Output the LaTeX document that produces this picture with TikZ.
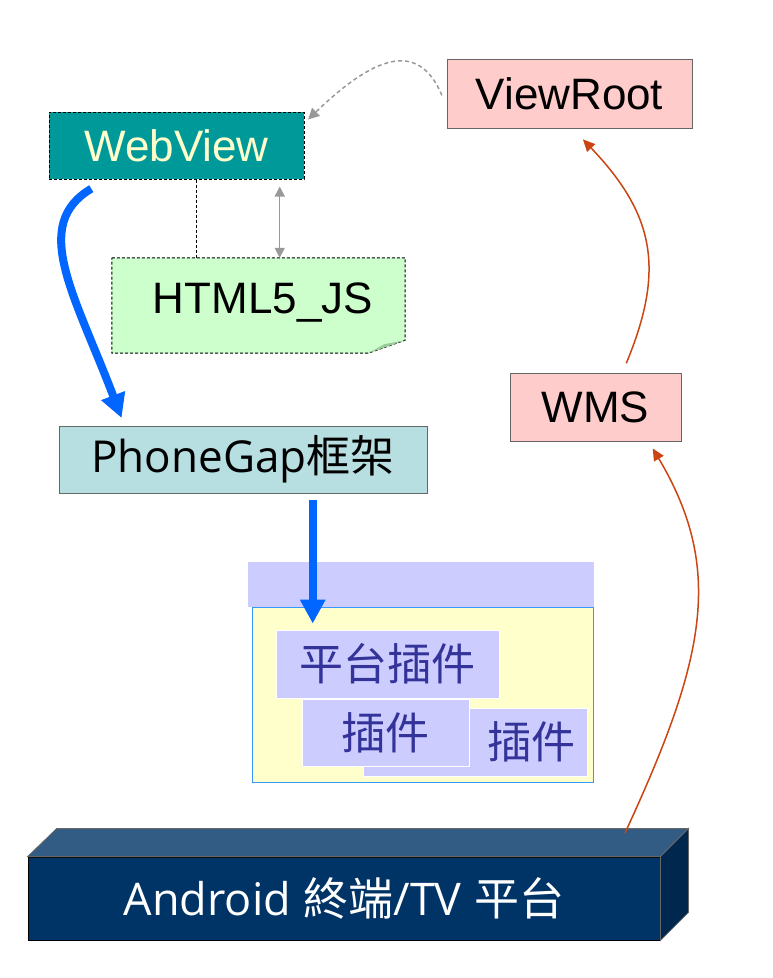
\documentclass[tikz,border=0pt]{standalone}
\usepackage{fontspec}
\setmainfont{Liberation Sans}
\newfontfamily\cjk{Noto Sans CJK TC}
\newfontfamily\segoe{Open Sans}
\usetikzlibrary{arrows.meta}
\definecolor{teal1}{HTML}{009999}
\definecolor{yel1}{HTML}{FFFFCC}
\definecolor{pink1}{HTML}{FFCCCC}
\definecolor{green1}{HTML}{CCFFCC}
\definecolor{fold1}{HTML}{99CC99}
\definecolor{pgcyan}{HTML}{B7DEE0}
\definecolor{lav}{HTML}{CCCCFF}
\definecolor{plugtext}{HTML}{333399}
\definecolor{blue1}{HTML}{0066FF}
\definecolor{blue2}{HTML}{3399FF}
\definecolor{red1}{HTML}{CC4411}
\definecolor{gray1}{HTML}{999999}
\definecolor{gray66}{HTML}{666666}
\definecolor{navy1}{HTML}{003366}
\definecolor{navytop}{HTML}{335C85}
\definecolor{navyside}{HTML}{00284F}
\begin{document}
\begin{tikzpicture}[x=1pt,y=1pt]
\tikzstyle{every node}+=[inner sep=0pt]
\tikzstyle{bigtext}=[font=\fontsize{44pt}{50pt}\selectfont]
\tikzstyle{dashbox}=[draw=black,line width=1pt,dash pattern=on 3pt off 2pt]
\tikzstyle{pinkbox}=[draw=gray66,line width=1pt,fill=pink1,bigtext]
\tikzstyle{plugbox}=[draw=white,line width=0.8pt,fill=lav,text=plugtext,font=\cjk\fontsize{44pt}{50pt}\selectfont]
\tikzstyle{bluearrow}=[draw=blue1,line width=8pt,-{Triangle[width=24pt,length=24pt]}]
\tikzstyle{redarrow}=[draw=red1,line width=1.5pt,-{Triangle[width=11pt,length=12pt]}]
\tikzstyle{grayarrow}=[draw=gray1,line width=1.5pt]
\useasboundingbox (0,0) rectangle (772,-978);
\node [dashbox,fill=teal1,text=yel1,bigtext,minimum width=255pt,minimum height=67pt] (webview) at (176.5,-145.5) {WebView};
\node [pinkbox,minimum width=245pt,minimum height=69pt] (viewroot) at (569.5,-93.5) {ViewRoot};
\node [pinkbox,minimum width=171pt,minimum height=68pt] (wms) at (595.5,-407) {WMS};
\node [minimum width=293pt,minimum height=95pt] (html) at (258.5,-305.5) {};
\filldraw [fill=green1,dashbox] (html.north west) -- (html.north east) -- ([yshift=13pt]html.south east) -- ([xshift=-37pt]html.south east) -- (html.south west) -- cycle;
\fill [fold1] ([xshift=-37pt]html.south east) -- ([xshift=-21pt,yshift=9pt]html.south east) -- ([yshift=13pt]html.south east) -- cycle;
\node [bigtext] (htmltext) at (263,-303) {HTML5\_JS};
\node [draw=gray66,line width=1pt,fill=pgcyan,font=\fontsize{44pt}{50pt}\selectfont,minimum width=368pt,minimum height=67pt] (phonegap) at (243,-459.5) {{\segoe PhoneGap}{\cjk 框架}};
\node [fill=yel1,draw=blue2,line width=0.8pt,minimum width=341pt,minimum height=175pt] (plugbody) at (422.5,-694.5) {};
\node [fill=lav,minimum width=346pt,minimum height=45pt] (plugbar) at (421,-584.5) {};
\node [plugbox,minimum width=224pt,minimum height=68pt,text width=200pt,align=right,inner xsep=12pt] (plugc) at (475,-742) {插件};
\node [plugbox,minimum width=167pt,minimum height=67pt] (plugb) at (385.5,-732.5) {插件};
\node [plugbox,minimum width=223pt,minimum height=68pt] (plat) at (387.5,-664) {平台插件};
\node [fill=navy1,draw=black,line width=0.8pt,text=white,font=\fontsize{45pt}{50pt}\selectfont,minimum width=632pt,minimum height=83pt] (android) at (344,-898.5) {{\segoe Android} {\cjk 終端}{\segoe /TV} {\cjk 平台}};
\filldraw [fill=navytop,draw=black!60,line width=0.8pt] (android.north west) -- ++(29,28) -- ([shift={(28,28)}]android.north east) -- (android.north east) -- cycle;
\filldraw [fill=navyside,draw=black!60,line width=0.8pt] (android.north east) -- ++(28,28) -- ([shift={(28,28)}]android.south east) -- (android.south east) -- cycle;
\coordinate (tvtop) at (625,-833);
\draw [dashbox] (webview.-60) -- (webview.-60 |- html.north);
\draw [grayarrow,{Triangle[width=10pt,length=10pt]}-{Triangle[width=10pt,length=10pt]},shorten >=7pt] (html.66) -- (html.66 |- webview.south);
\draw [grayarrow,dash pattern=on 4pt off 3pt,-{Triangle[width=11pt,length=11pt]},shorten <=12pt,shorten >=5pt] (viewroot.186) .. controls (418,-38) and (372,-58) .. (webview.10);
\draw [bluearrow,shorten <=18pt,shorten >=8pt] (webview.-154) .. controls (30,-225) and (75,-295) .. (phonegap.164.5);
\draw [bluearrow,shorten <=6pt,shorten >=6pt] (phonegap.-26) -- (phonegap.-26 |- plat.north);
\draw [redarrow,shorten <=10pt,shorten >=15pt] (wms.52) .. controls (665,-270) and (655,-215) .. (viewroot.-85);
\draw [redarrow,shorten >=8pt] (tvtop) .. controls (705,-660) and (725,-570) .. (wms.-33);
\end{tikzpicture}
\end{document}
